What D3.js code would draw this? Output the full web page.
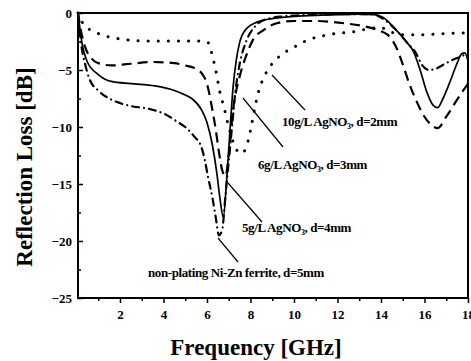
<!DOCTYPE html>
<html>
<head>
<meta charset="utf-8">
<script src="https://cdn.jsdelivr.net/npm/d3@7"></script>
<style>
  body { margin: 0; background: #fff; }
  svg text { font-family: "Liberation Serif", "DejaVu Serif", serif; font-weight: bold; fill: #000; }
</style>
</head>
<body>
<div id="grafico"></div>
<script>
// 10g/L AgNO3, d=2mm (dotted)
const freq10 = [0.07, 0.2, 0.45, 1, 1.5, 2.1, 3, 4, 5, 5.7, 6.05, 6.2, 6.4, 6.6, 6.8, 7.0, 7.2, 7.4, 7.6, 7.8, 8.0, 8.2, 8.4, 8.6, 8.9, 9.4, 10, 10.6, 11.6, 12.9, 13.5, 14, 14.5, 15, 16, 17, 18];
const rl10 = [0, -0.6, -1.2, -1.8, -2.1, -2.3, -2.45, -2.45, -2.45, -2.45, -2.6, -3.4, -5.0, -7.0, -8.4, -10.0, -11.3, -12.1, -12.3, -11.8, -10.3, -8.3, -6.7, -5.7, -4.7, -3.7, -3.0, -2.4, -1.9, -1.6, -1.35, -1.3, -1.7, -1.9, -1.9, -1.8, -1.75];

// 6g/L AgNO3, d=3mm (dashed)
const freq6 = [0.07, 0.2, 0.4, 0.7, 1.0, 1.6, 2.5, 3.5, 4.5, 5.0, 5.5, 5.8, 6.0, 6.2, 6.4, 6.55, 6.7, 6.85, 7.0, 7.2, 7.5, 7.85, 8.1, 8.6, 9.2, 10, 11, 12.3, 13.3, 14.0, 14.3, 14.7, 15.0, 15.3, 15.6, 16.0, 16.3, 16.6, 17.0, 17.5, 18];
const rl6 = [0, -1.5, -3.0, -4.0, -4.4, -4.6, -4.45, -4.3, -4.4, -4.6, -4.9, -5.4, -6.2, -8.0, -10.2, -12.2, -13.8, -14.3, -12.5, -8.5, -5.6, -3.5, -2.4, -1.5, -0.9, -0.7, -0.7, -0.9, -1.2, -1.6, -1.9, -3.0, -4.5, -6.2, -7.6, -9.1, -9.8, -10.1, -9.1, -7.6, -6.2];

// 5g/L AgNO3, d=4mm (solid)
const freq5 = [0.07, 0.25, 0.5, 1.0, 1.6, 2.5, 3.6, 4.5, 5.0, 5.3, 5.75, 6.0, 6.25, 6.45, 6.6, 6.75, 6.9, 7.05, 7.2, 7.35, 7.5, 7.8, 8.3, 9.0, 10, 11, 12, 13, 13.7, 14.1, 14.7, 15.2, 15.5, 15.8, 16.1, 16.4, 16.6, 16.85, 17.2, 17.5, 17.7, 17.85, 18];
const rl5 = [0, -2.6, -4.3, -5.4, -6.0, -6.2, -6.4, -6.8, -7.2, -7.5, -8.5, -9.6, -11.6, -14.0, -16.3, -17.9, -14.8, -10.5, -6.5, -4.1, -2.6, -1.4, -0.8, -0.5, -0.3, -0.2, -0.15, -0.1, -0.15, -0.4, -1.5, -2.6, -3.4, -5.0, -6.9, -8.1, -8.3, -7.5, -5.9, -4.4, -3.6, -3.5, -4.2];

// non-plating Ni-Zn ferrite, d=5mm (dash-dot)
const freqNp = [0.07, 0.2, 0.4, 0.6, 1.0, 1.5, 2.0, 2.6, 3.2, 3.7, 4.1, 4.6, 5.0, 5.4, 5.75, 5.9, 6.05, 6.25, 6.4, 6.55, 6.7, 6.85, 7.0, 7.15, 7.3, 7.5, 7.8, 8.2, 8.8, 9.5, 11, 12.5, 13.6, 14.0, 14.7, 15.2, 15.6, 15.9, 16.2, 16.5, 16.9, 17.3, 17.7, 18];
const rlNp = [0, -2.5, -4.5, -5.8, -6.8, -7.5, -7.9, -8.2, -8.35, -8.6, -8.9, -9.5, -10, -10.8, -11.8, -12.9, -14.4, -16.2, -17.9, -19.5, -19.0, -16, -13.0, -10, -7.0, -4.5, -2.5, -1.2, -0.5, -0.3, -0.15, -0.1, -0.1, -0.4, -1.5, -2.6, -3.5, -4.6, -5.0, -4.9, -4.5, -4.1, -3.8, -3.5];

const xTicks = [2, 4, 6, 8, 10, 12, 14, 16, 18];
const yTicks = [0, -5, -10, -15, -20, -25];

document.addEventListener('DOMContentLoaded', function() {
    const largura = 471, altura = 361;
    const area = { esquerda: 78, direita: 468, topo: 13, baixo: 298 };

    const svg = d3.select('#grafico')
                  .append('svg')
                  .attr('width', largura)
                  .attr('height', altura);

    const x = d3.scaleLinear().domain([0.07, 18]).range([area.esquerda, area.direita]);
    const y = d3.scaleLinear().domain([-25, 0]).range([area.baixo, area.topo]);

    // minor ticks
    const xMinor = d3.range(1, 18, 2);
    const yMinor = d3.range(-22.5, 0, 5);

    svg.append('g')
       .attr('transform', `translate(0, ${area.baixo})`)
       .call(d3.axisBottom(x).tickValues(xMinor).tickSize(3).tickFormat(''))
       .call(g => g.select('.domain').remove())
       .call(g => g.selectAll('line').attr('stroke-width', 1.5));

    svg.append('g')
       .attr('transform', `translate(0, ${area.baixo})`)
       .call(d3.axisBottom(x).tickValues(xTicks).tickSize(5).tickPadding(7).tickFormat(d3.format('d')))
       .call(g => g.select('.domain').remove())
       .call(g => g.selectAll('line').attr('stroke-width', 1.5))
       .call(g => g.selectAll('text').style('font-size', '13px').attr('font-family', null));

    svg.append('g')
       .attr('transform', `translate(${area.esquerda}, 0)`)
       .call(d3.axisRight(y).tickValues(yMinor).tickSize(3).tickFormat(''))
       .call(g => g.select('.domain').remove())
       .call(g => g.selectAll('line').attr('stroke-width', 1.5));

    svg.append('g')
       .attr('transform', `translate(${area.esquerda}, 0)`)
       .call(d3.axisLeft(y).tickValues(yTicks).tickSize(0).tickPadding(6).tickFormat(d3.format('d')))
       .call(g => g.select('.domain').remove())
       .call(g => g.selectAll('text').style('font-size', '13px').attr('font-family', null));

    svg.append('g')
       .attr('transform', `translate(${area.esquerda}, 0)`)
       .call(d3.axisRight(y).tickValues(yTicks).tickSize(5).tickFormat(''))
       .call(g => g.select('.domain').remove())
       .call(g => g.selectAll('line').attr('stroke-width', 1.5));

    // moldura
    svg.append('rect')
       .attr('x', area.esquerda)
       .attr('y', area.topo)
       .attr('width', area.direita - area.esquerda)
       .attr('height', area.baixo - area.topo)
       .attr('fill', 'none')
       .attr('stroke', '#000')
       .attr('stroke-width', 2);

    const linha = d3.line()
                    .x(d => x(d[0]))
                    .y(d => y(d[1]))
                    .curve(d3.curveMonotoneX);

    const series = [
        { f: freq10, v: rl10, dash: '0.1 10', cap: 'round', w: 3 },
        { f: freq6, v: rl6, dash: '10 6', cap: 'butt', w: 2.2 },
        { f: freq5, v: rl5, dash: null, cap: 'butt', w: 1.7 },
        { f: freqNp, v: rlNp, dash: '7 5 0.1 5', cap: 'round', w: 2.2 }
    ];

    series.forEach(s => {
        svg.append('path')
           .datum(s.f.map((f, i) => [f, s.v[i]]))
           .attr('d', linha)
           .attr('fill', 'none')
           .attr('stroke', '#000')
           .attr('stroke-width', s.w)
           .attr('stroke-linecap', s.cap)
           .attr('stroke-dasharray', s.dash);
    });

    // rótulos com linhas de chamada
    const rotulos = [
        { txt: ['10g/L AgNO', '3', ', d=2mm'], tx: 282, ty: 126, l: [272, 75, 305, 110] },
        { txt: ['6g/L AgNO', '3', ', d=3mm'], tx: 258, ty: 169, l: [243, 98, 283, 147] },
        { txt: ['5g/L AgNO', '3', ', d=4mm'], tx: 242, ty: 232, l: [228, 183, 262, 222] },
        { txt: ['non-plating Ni-Zn ferrite, d=5mm'], tx: 148, ty: 277, l: [218, 238, 238, 262] }
    ];

    rotulos.forEach(r => {
        svg.append('line')
           .attr('x1', r.l[0]).attr('y1', r.l[1])
           .attr('x2', r.l[2]).attr('y2', r.l[3])
           .attr('stroke', '#000')
           .attr('stroke-width', 1.2);
        const t = svg.append('text')
                     .attr('x', r.tx)
                     .attr('y', r.ty)
                     .style('font-size', '13px')
                     .style('letter-spacing', '-0.4px');
        t.append('tspan').text(r.txt[0]);
        if (r.txt.length > 1) {
            t.append('tspan').attr('dy', 3).style('font-size', '8px').text(r.txt[1]);
            t.append('tspan').attr('dy', -3).text(r.txt[2]);
        }
    });

    // títulos dos eixos
    svg.append('text')
       .attr('x', 256)
       .attr('y', 355)
       .attr('text-anchor', 'middle')
       .style('font-size', '23px')
       .text('Frequency [GHz]');

    svg.append('text')
       .attr('transform', 'translate(32, 167) rotate(-90)')
       .attr('text-anchor', 'middle')
       .style('font-size', '23px')
       .text('Reflection Loss [dB]');
});
</script>
</body>
</html>
